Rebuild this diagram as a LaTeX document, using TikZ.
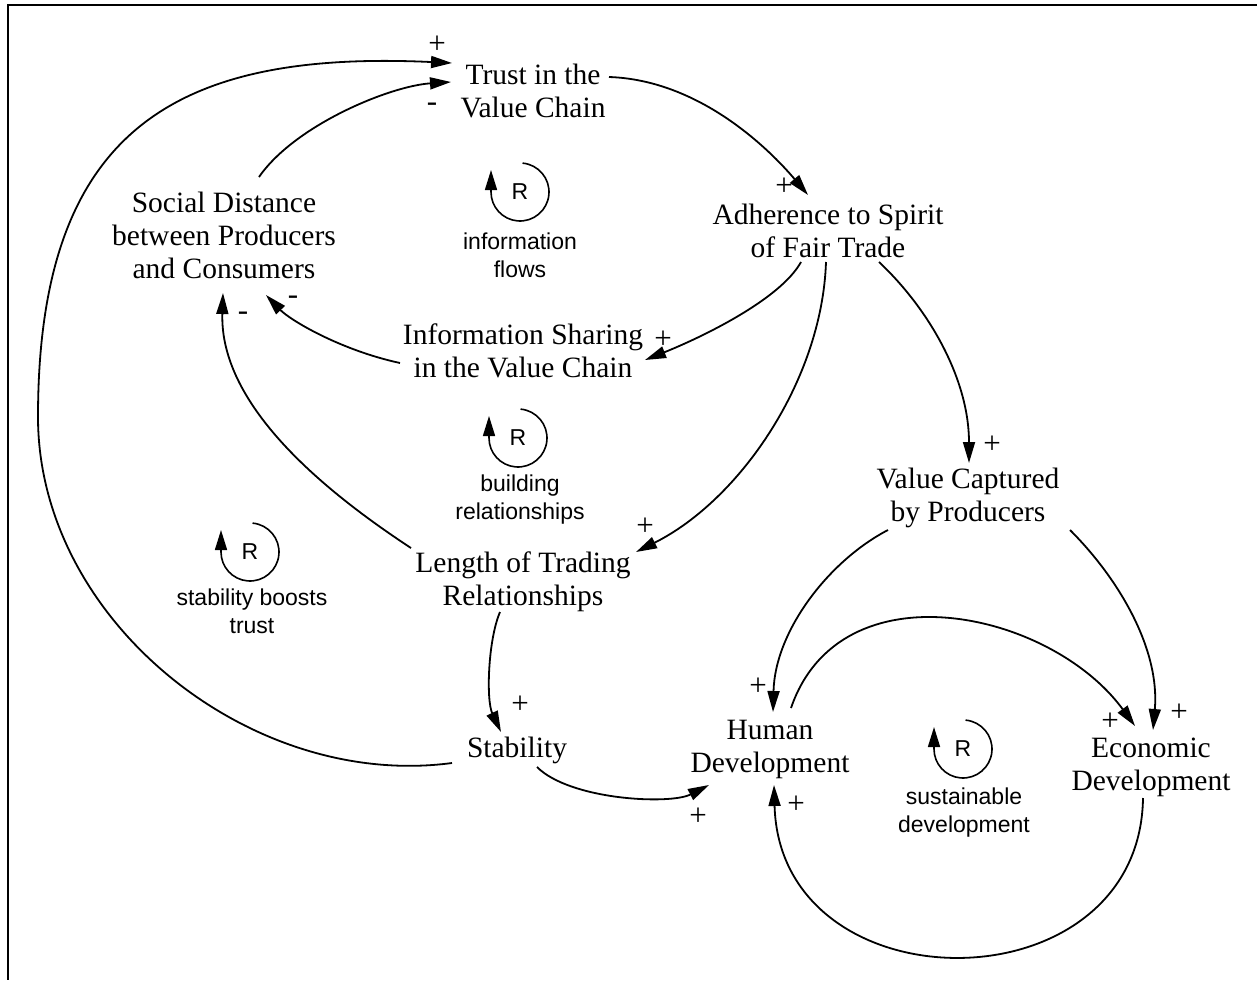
\documentclass[tikz,border=0pt]{standalone}
\usepackage{fontspec}
\setmainfont{Liberation Serif}
\setsansfont{Liberation Sans}
\usetikzlibrary{arrows.meta}
\newcommand{\topstrut}{\rule{0pt}{21pt}}
\newcommand{\botstrut}{\rule[-7pt]{0pt}{7pt}}
\begin{document}
\begin{tikzpicture}[x=1pt, y=-1pt,
  var/.style={font=\fontsize{29.5}{33}\selectfont, align=center, inner sep=0pt,
    execute at begin node=\topstrut, execute at end node=\botstrut},
  sign/.style={font=\fontsize{31}{31}\selectfont, inner sep=0pt},
  link/.style={line width=1.8pt, -{Triangle[length=21pt,width=12pt]}},
  loopR/.style={font=\sffamily\fontsize{23}{28}\selectfont, inner sep=0pt},
  looptext/.style={font=\sffamily\fontsize{23}{28}\selectfont, align=center, inner sep=0pt},
  looparc/.style={line width=1.6pt, -{Triangle[length=20pt,width=12pt]}},
]
\useasboundingbox (0,0) rectangle (1257,980);

% frame (top and left edges)
\draw[line width=2.4pt] (1257,5) -- (8,5) -- (8,980);

% variables
\node[var] (trust)  at (533,94)  {Trust in the\\Value Chain};
\node[var] (social) at (224,239) {Social Distance\\between Producers\\and Consumers};
\node[var] (adh)    at (828,234) {Adherence to Spirit\\of Fair Trade};
\node[var] (info)   at (523,354) {Information Sharing\\in the Value Chain};
\node[var] (length) at (523,582) {Length of Trading\\Relationships};
\node[var] (value)  at (968,498) {Value Captured\\by Producers};
\node[var] (stab)   at (517,750) {Stability};
\node[var] (human)  at (770,750) {Human\\Development};
\node[var] (econ)   at (1151,768) {Economic\\Development};

% reinforcing loop markers
\node[loopR] (rInfo)  at (520,192) {R};
\node[looptext] (tInfo) at (520,255) {information\\flows};
\node[loopR] (rBuild) at (518,438) {R};
\node[looptext] (tBuild) at (520,500) {building\\relationships};
\node[loopR] (rStab)  at (250,552) {R};
\node[looptext] (tStab) at (252,611) {stability boosts\\trust};
\node[loopR] (rSust)  at (963,749) {R};
\node[looptext] (tSust) at (964,813) {sustainable\\development};

\foreach \c in {rInfo,rBuild,rStab,rSust}
  \draw[looparc] ([shift={(85:29pt)}]\c.center)
    arc[start angle=85, end angle=-180, radius=29pt] -- ++(0pt,22pt);

% causal links
\draw[link] ([shift={(-65,13)}]stab.center) .. controls (250,790) and (38,620) .. (38,417)
  .. controls (38,130) and (175,50) .. ([shift={(-81,-31)}]trust.center);
\draw[link] ([shift={(35,-62)}]social.center) .. controls (295,125) and (390,86) .. ([shift={(-82,-12)}]trust.center);
\draw[link] ([shift={(76,-17)}]trust.center) .. controls (700,80) and (770,150) .. ([shift={(-20,-39)}]adh.center);
\draw[link] ([shift={(-27,28)}]adh.center) .. controls (780,300) and (700,338) .. ([shift={(122,6)}]info.center);
\draw[link] ([shift={(-2,28)}]adh.center) .. controls (822,380) and (740,500) .. ([shift={(113,-30)}]length.center);
\draw[link] ([shift={(51,28)}]adh.center) .. controls (930,310) and (969,380) .. ([shift={(1,-35)}]value.center);
\draw[link] ([shift={(-123,9)}]info.center) .. controls (340,350) and (290,320) .. ([shift={(42,56)}]social.center);
\draw[link] ([shift={(-112,-34)}]length.center) .. controls (292,470) and (220,390) .. ([shift={(-1,54)}]social.center);
\draw[link] ([shift={(-23,30)}]length.center) .. controls (488,640) and (486,700) .. ([shift={(-16,-18)}]stab.center);
\draw[link] ([shift={(20,17)}]stab.center) .. controls (570,800) and (670,805) .. ([shift={(-61,35)}]human.center);
\draw[link] ([shift={(-80,32)}]value.center) .. controls (830,560) and (775,630) .. ([shift={(3,-38)}]human.center);
\draw[link] ([shift={(102,32)}]value.center) .. controls (1120,580) and (1160,650) .. ([shift={(2,-38)}]econ.center);
\draw[link] ([shift={(21,-42)}]human.center) .. controls (840,565) and (1050,610) .. ([shift={(-16,-42)}]econ.center);
\draw[link] ([shift={(-8,30)}]econ.center) .. controls (1140,1010) and (780,1010) .. ([shift={(4,35)}]human.center);

% link polarities
\node[sign] (s1)  at (437,45)  {+};
\node[sign] (s2)  at (432,107) {-};
\node[sign] (s3)  at (784,187) {+};
\node[sign] (s4)  at (663,340) {+};
\node[sign] (s5)  at (293,300) {-};
\node[sign] (s6)  at (243,316) {-};
\node[sign] (s7)  at (645,527) {+};
\node[sign] (s8)  at (992,445) {+};
\node[sign] (s9)  at (520,705) {+};
\node[sign] (s10) at (698,817) {+};
\node[sign] (s11) at (758,687) {+};
\node[sign] (s12) at (796,805) {+};
\node[sign] (s13) at (1110,722) {+};
\node[sign] (s14) at (1179,713) {+};
\end{tikzpicture}
\end{document}
